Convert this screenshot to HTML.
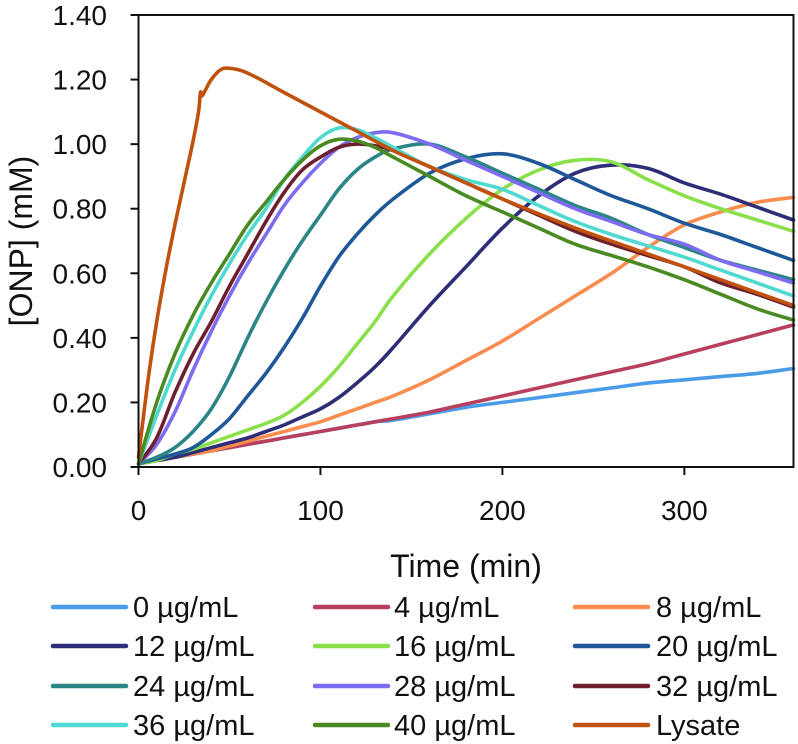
<!DOCTYPE html>
<html><head><meta charset="utf-8"><style>
body{margin:0;background:#fff;}
svg{display:block;font-family:"Liberation Sans",Arial,sans-serif;}
</style></head><body>
<svg id="chart" width="798" height="744" viewBox="0 0 798 744"></svg>
<script>
const times=[0,10,20,30,40,50,60,70,80,90,100,110,120,130,140,160,180,200,220,240,260,280,300,320,340,360];
const s0=[0.01,0.02,0.03,0.04,0.05,0.06,0.07,0.08,0.09,0.10,0.11,0.12,0.13,0.14,0.145,0.165,0.185,0.20,0.215,0.23,0.245,0.26,0.27,0.28,0.29,0.305];
const s4=[0.01,0.02,0.03,0.04,0.05,0.06,0.07,0.08,0.09,0.10,0.11,0.12,0.13,0.14,0.15,0.17,0.195,0.22,0.245,0.27,0.295,0.32,0.35,0.38,0.41,0.44];
const s8=[0.01,0.02,0.03,0.04,0.05,0.065,0.08,0.095,0.11,0.125,0.14,0.16,0.18,0.20,0.22,0.27,0.33,0.39,0.46,0.53,0.60,0.68,0.75,0.79,0.82,0.835];
const s12=[0.01,0.02,0.03,0.045,0.06,0.075,0.09,0.11,0.13,0.155,0.18,0.215,0.26,0.31,0.37,0.50,0.62,0.74,0.84,0.91,0.935,0.925,0.88,0.845,0.805,0.765];
const s16=[0.01,0.02,0.04,0.055,0.075,0.095,0.115,0.135,0.16,0.20,0.25,0.31,0.38,0.45,0.53,0.66,0.77,0.86,0.92,0.95,0.945,0.89,0.84,0.80,0.765,0.73];
const s20=[0.01,0.025,0.04,0.06,0.10,0.15,0.22,0.29,0.37,0.46,0.56,0.65,0.72,0.78,0.83,0.91,0.955,0.97,0.94,0.89,0.84,0.80,0.755,0.72,0.68,0.64];
const s24=[0.01,0.03,0.06,0.11,0.18,0.28,0.40,0.51,0.61,0.70,0.78,0.86,0.92,0.96,0.985,1.00,0.96,0.91,0.86,0.81,0.77,0.72,0.68,0.64,0.61,0.58];
const s28=[0.01,0.07,0.17,0.30,0.42,0.53,0.63,0.72,0.81,0.88,0.94,0.99,1.02,1.035,1.035,1.00,0.95,0.90,0.85,0.80,0.76,0.72,0.69,0.64,0.605,0.57];
const s32=[0.01,0.09,0.23,0.35,0.45,0.56,0.66,0.76,0.85,0.92,0.96,0.99,1.00,0.995,0.98,0.93,0.88,0.83,0.78,0.73,0.69,0.655,0.62,0.57,0.535,0.495];
const s36=[0.01,0.16,0.30,0.42,0.53,0.63,0.72,0.80,0.89,0.96,1.02,1.05,1.045,1.02,0.99,0.93,0.89,0.86,0.81,0.76,0.72,0.685,0.65,0.61,0.57,0.53];
const s40=[0.01,0.20,0.35,0.47,0.57,0.66,0.75,0.82,0.89,0.95,0.995,1.015,1.01,0.99,0.96,0.90,0.84,0.79,0.74,0.69,0.655,0.62,0.58,0.535,0.49,0.455];
const lysateTimes=[0,3,6,10,15,20,25,30,33,34,35,37,40,45,50,60,80,100,120,140,160,180,200,240,280,320,360];
const lysate=[0.03,0.17,0.30,0.45,0.61,0.75,0.88,1.01,1.10,1.16,1.15,1.17,1.20,1.23,1.235,1.22,1.16,1.10,1.04,0.98,0.93,0.88,0.83,0.74,0.66,0.58,0.50];
const seriesNames=["0 µg/mL","4 µg/mL","8 µg/mL","12 µg/mL","16 µg/mL","20 µg/mL","24 µg/mL","28 µg/mL","32 µg/mL","36 µg/mL","40 µg/mL","Lysate"];
const yTicks=["0.00","0.20","0.40","0.60","0.80","1.00","1.20","1.40"];
const xTicks=["0","100","200","300"];

const colors=["#4a9be8","#b8405e","#f98c4e","#2e2d78","#8ae04a","#1f5898","#2c8585","#7d6cf0","#6e1f2e","#4fd9d0","#4a8a22","#c0520e"];
const X0=138.5,X1=793.5,Y0=467,Y1=15;
const xs=t=>X0+(t/360)*(X1-X0);
const ys=v=>Y0-(v/1.4)*(Y0-Y1);
const NS="http://www.w3.org/2000/svg";
const svg=document.getElementById('chart');
function mk(tag,attrs,parent){const e=document.createElementNS(NS,tag);for(const k in attrs)e.setAttribute(k,attrs[k]);(parent||svg).appendChild(e);return e;}
function smooth(pts){let d="M"+pts[0][0].toFixed(1)+","+pts[0][1].toFixed(1);
 for(let i=0;i<pts.length-1;i++){const p0=pts[i-1]||pts[i],p1=pts[i],p2=pts[i+1],p3=pts[i+2]||p2;
  const c1=[p1[0]+(p2[0]-p0[0])/6,p1[1]+(p2[1]-p0[1])/6],c2=[p2[0]-(p3[0]-p1[0])/6,p2[1]-(p3[1]-p1[1])/6];
  d+=" C"+c1[0].toFixed(1)+","+c1[1].toFixed(1)+" "+c2[0].toFixed(1)+","+c2[1].toFixed(1)+" "+p2[0].toFixed(1)+","+p2[1].toFixed(1);}
 return d;}
const allSeries=[s0,s4,s8,s12,s16,s20,s24,s28,s32,s36,s40];
const gLines=mk('g',{});


allSeries.forEach((s,i)=>{
 const p=mk('path',{d:smooth(s.map((v,j)=>[xs(times[j]),ys(v)])),fill:"none",stroke:colors[i],"stroke-width":3.6,"stroke-linejoin":"round","stroke-linecap":"round"},gLines);
 
 
});
const lp=mk('path',{d:smooth(lysate.map((v,j)=>[xs(lysateTimes[j]),ys(v)])),fill:"none",stroke:colors[11],"stroke-width":3.6,"stroke-linejoin":"round","stroke-linecap":"round"},gLines);



const frame=mk('rect',{x:X0,y:Y1,width:X1-X0,height:Y0-Y1,fill:"none",stroke:"#111","stroke-width":2});


yTicks.forEach((lab,i)=>{const v=i*0.2;
 mk('line',{x1:X0-8,x2:X0,y1:ys(v),y2:ys(v),stroke:"#111","stroke-width":2});
 const t=mk('text',{x:107,y:ys(v)+10,"text-anchor":"end","font-size":28,fill:"#111"});t.textContent=lab;
 
 
});
xTicks.forEach(lab=>{const v=+lab;
 mk('line',{x1:xs(v),x2:xs(v),y1:Y0,y2:Y0+8,stroke:"#111","stroke-width":2});
 const t=mk('text',{x:xs(v),y:520,"text-anchor":"middle","font-size":28,fill:"#111"});t.textContent=lab;
 
 
});
const xt=mk('text',{x:466,y:577,"text-anchor":"middle","font-size":32,fill:"#111"});xt.textContent="Time (min)";


const yt=mk('text',{x:0,y:0,"text-anchor":"middle","font-size":32,fill:"#111",transform:"translate(32,241) rotate(-90)"});yt.textContent="[ONP] (mM)";



const colX=[[53,126,133],[315,388,394],[575,648,656]];
const rowY=[607,646,686,725];
seriesNames.forEach((n,i)=>{const r=Math.floor(i/3),c=i%3,y=rowY[r];
 const g=mk('g',{});
 
 
 mk('line',{x1:colX[c][0],x2:colX[c][1],y1:y,y2:y,stroke:colors[i],"stroke-width":4.5,"stroke-linecap":"round"},g);
 const t=mk('text',{x:colX[c][2],y:y+10,"font-size":29,fill:"#111"},g);t.textContent=n;
});
</script>
</body></html>
